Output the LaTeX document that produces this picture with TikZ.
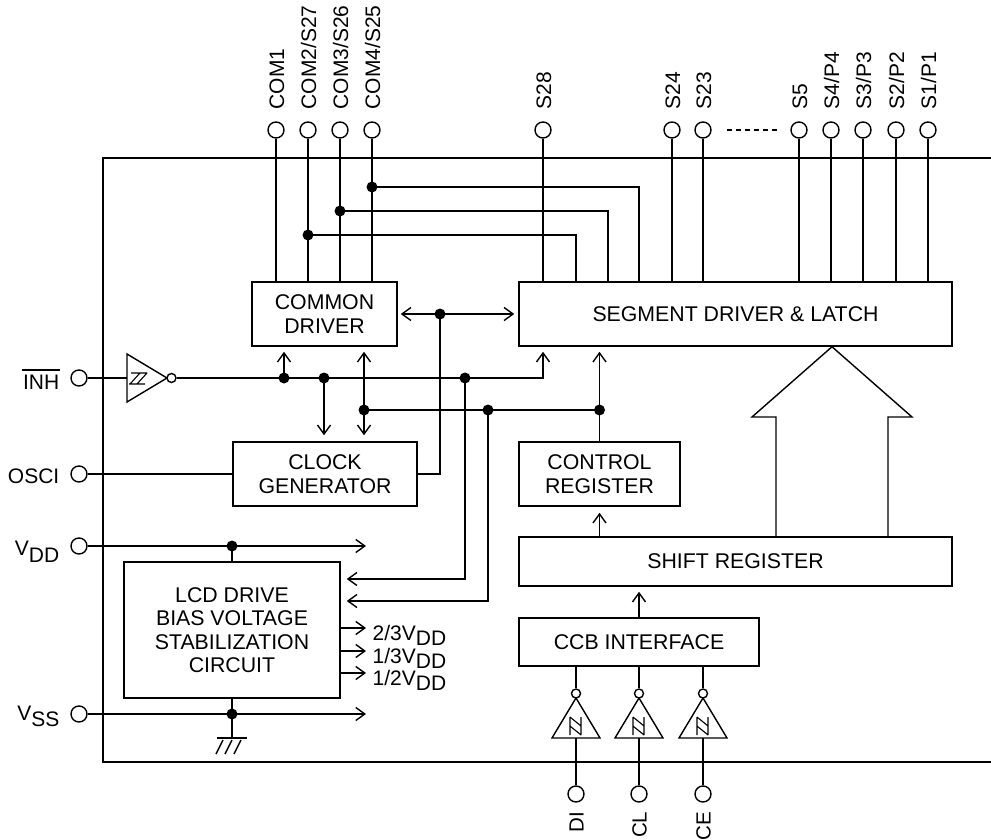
\documentclass[tikz,border=0pt]{standalone}
\usepackage{fontspec}
\setmainfont{Liberation Sans}
\usetikzlibrary{arrows.meta,calc}
\newcommand\toppin[3]{%
  \node[pinc] (p#1) at (#2,130) {};
  \node[lbl,rotate=90,anchor=base west] (l#1) at (#2+8,110) {#3};
}
\newcommand\botbuf[3]{%
  \node[pinc] (p#1) at (#2,794) {};
  \draw (#2-24,738) -- (#2,698) -- (#2+24,738) -- cycle;
  \node[bub] (b#1) at (#2,693.5) {};
  \draw[line width=1.1pt] (#2-6,717) -- (#2-6,735) (#2+5,717) -- (#2+5,735) (#2-6,726) -- (#2+5,735) (#2-6,717) -- (#2+5,726);
  \draw (p#1) -- (#2,738);
  \draw (b#1) -- (b#1 |- ccb.south);
  \node[lbl,font=\fontsize{20.5}{24}\selectfont,rotate=90,anchor=base east] (l#1) at (#2+7.5,811) {#3};
}
\begin{document}
\begin{tikzpicture}[x=1pt,y=-1pt,line width=1.4pt,
  >={Straight Barb[length=9pt,width=13pt]},
  block/.style={draw,line width=1.5pt,inner sep=0pt,align=center,font=\fontsize{21.3}{23.5}\selectfont},
  pinc/.style={draw,circle,minimum size=16pt,inner sep=0pt},
  lbl/.style={inner sep=0pt,font=\fontsize{21}{24}\selectfont},
  jdot/.style={circle,fill,inner sep=0pt,minimum size=11pt},
  bub/.style={draw,circle,fill=white,inner sep=0pt,minimum size=9pt},
  ain/.style={->,shorten >=5pt},
  ain6/.style={->,shorten >=6pt},
]
\useasboundingbox (0,0) rectangle (991,840);
% chip outline
\draw[line width=1.5pt] (991,158) -- (103,158) -- (103,762) -- (991,762);

% blocks
\node[block,minimum width=145pt,minimum height=64pt] (cd) at (324.5,314) {COMMON\\DRIVER};
\node[block,minimum width=433pt,minimum height=64pt] (seg) at (735.5,314) {SEGMENT DRIVER \& LATCH};
\node[block,minimum width=184pt,minimum height=64pt] (clk) at (325,474) {CLOCK\\GENERATOR};
\node[block,minimum width=161pt,minimum height=64pt] (ctl) at (599.5,474) {CONTROL\\REGISTER};
\node[block,minimum width=433pt,minimum height=49pt] (shf) at (735.5,561.5) {SHIFT REGISTER};
\node[block,minimum width=240pt,minimum height=48pt] (ccb) at (639,642) {CCB INTERFACE};
\node[block,minimum width=216pt,minimum height=136pt] (lcd) at (232,630) {LCD DRIVE\\BIAS VOLTAGE\\STABILIZATION\\CIRCUIT};

% top pins
\toppin{A}{276}{COM1}
\toppin{B}{308}{COM2/S27}
\toppin{C}{340}{COM3/S26}
\toppin{D}{372}{COM4/S25}
\toppin{S28}{543}{S28}
\toppin{S24}{672}{S24}
\toppin{S23}{703}{S23}
\toppin{S5}{799}{S5}
\toppin{S4}{831}{S4/P4}
\toppin{S3}{863}{S3/P3}
\toppin{S2}{896}{S2/P2}
\toppin{S1}{928}{S1/P1}
\draw[dash pattern=on 5pt off 4pt] (727,130) -- (777,130);
\foreach \n in {A,B,C,D} \draw (p\n) -- (p\n |- cd.north);
\foreach \n in {S28,S24,S23,S5,S4,S3,S2,S1} \draw (p\n) -- (p\n |- seg.north);

% COM/segment shared lines
\coordinate (jD) at (372,187); \coordinate (tD) at (639,187);
\coordinate (jC) at (340,211); \coordinate (tC) at (608,211);
\coordinate (jB) at (308,235); \coordinate (tB) at (576,235);
\draw (jD) -- (tD) -- (tD |- seg.north);
\draw (jC) -- (tC) -- (tC |- seg.north);
\draw (jB) -- (tB) -- (tB |- seg.north);

% bidirectional bus
\draw[<->,shorten <=3pt,shorten >=4pt] (cd.east) -- (seg.west);
\coordinate (jK) at (440,314); \coordinate (cK) at (440,474);
\draw (jK) -- (cK) -- (clk.east);

% INH
\node[pinc] (pINH) at (79,378) {};
\node[lbl,anchor=base east] (lINH) at (60,389) {INH};
\draw ([yshift=4pt]lINH.north west) -- ([yshift=4pt]lINH.north east);
\draw (127,354) -- (167,378) -- (127,402) -- cycle;
\coordinate (bufin) at (127,378);
\draw (pINH) -- (bufin);
\node[bub] (bINH) at (171.5,378) {};
\draw[line width=1.1pt] (131,373) -- (147,373) (129,384) -- (145,384) (140,373) -- (130,384) (147,373) -- (137,384);
\coordinate (jI1) at (284,378); \coordinate (jI2) at (324,378);
\coordinate (jI3) at (465,378); \coordinate (tI) at (543,378);
\draw[ain] (bINH) -- (tI) -- (tI |- seg.south);
\draw[ain] (jI1) -- (jI1 |- cd.south);
\draw[ain6] (jI2) -- (jI2 |- clk.north);
\coordinate (cI) at (465,579);
\draw[ain6] (jI3) -- (cI) -- (cI -| lcd.east);

% control line
\coordinate (jC1) at (364,410); \coordinate (jC2) at (488,410); \coordinate (jC3) at (599.5,410);
\draw[<->,shorten <=5pt,shorten >=6pt] (jC1 |- cd.south) -- (jC1 |- clk.north);
\draw (jC1) -- (jC3);
\draw[ain] (ctl.north) -- (ctl.north |- seg.south);
\coordinate (cC) at (488,601);
\draw[ain6] (jC2) -- (cC) -- (cC -| lcd.east);
\draw[ain6] (ctl.south |- shf.north) -- (ctl.south);
\draw[ain] (ccb.north) -- (ccb.north |- shf.south);

% big arrow
\draw (776,0 |- shf.north) -- (776,417) -- (752,417) -- (832,0 |- seg.south) -- (912,417) -- (888,417) -- (888,0 |- shf.north);

% OSCI
\node[pinc] (pOSCI) at (79,474) {};
\node[lbl,anchor=base east] (lOSCI) at (60,483) {OSCI};
\draw (pOSCI) -- (clk.west);

% VDD
\node[pinc] (pVDD) at (79,546) {};
\node[lbl,anchor=base east] (lVDD) at (60,555) {V\raisebox{-7pt}{DD}};
\coordinate (eVDD) at (366,546);
\draw[->] (pVDD) -- (eVDD);
\coordinate (jV) at (232,546);
\draw (jV) -- (lcd.north);

% VSS
\node[pinc] (pVSS) at (79,714) {};
\node[lbl,anchor=base east] (lVSS) at (60,720) {V\raisebox{-6pt}{SS}};
\coordinate (eVSS) at (366,714);
\draw[->] (pVSS) -- (eVSS);
\coordinate (jS) at (232,714); \coordinate (gnd) at (232,738);
\draw (lcd.south) -- (jS) -- (gnd);
\draw[line width=2.2pt] (217,738) -- (247,738);
\draw (223,740) -- (216,754) (232,740) -- (225,754) (241,740) -- (234,754);

% LCD outputs
\coordinate (o1) at (366,628); \coordinate (o2) at (366,651); \coordinate (o3) at (366,673);
\draw[->] (o1 -| lcd.east) -- (o1);
\draw[->] (o2 -| lcd.east) -- (o2);
\draw[->] (o3 -| lcd.east) -- (o3);
\node[lbl,anchor=base west] (lo1) at (372,640) {2/3V\raisebox{-5pt}{DD}};
\node[lbl,anchor=base west] (lo2) at (372,663) {1/3V\raisebox{-5pt}{DD}};
\node[lbl,anchor=base west] (lo3) at (372,685) {1/2V\raisebox{-5pt}{DD}};

% bottom inputs
\botbuf{DI}{576}{DI}
\botbuf{CL}{639}{CL}
\botbuf{CE}{703}{CE}

% junction dots
\foreach \j in {jD,jC,jB,jK,jI1,jI2,jI3,jC1,jC2,jC3,jV,jS}
  \node[jdot] (d\j) at (\j) {};
\end{tikzpicture}
\end{document}
